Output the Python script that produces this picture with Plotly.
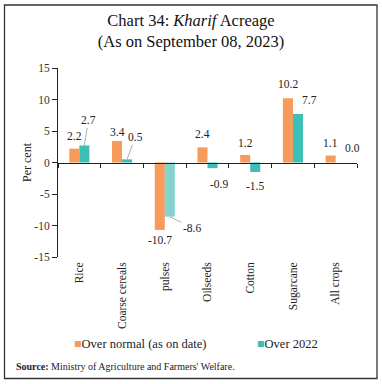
import plotly.graph_objects as go

categories = ["Rice", "Coarse cereals", "pulses", "Oilseeds", "Cotton", "Sugarcane", "All crops"]
over_normal = [2.2, 3.4, -10.7, 2.4, 1.2, 10.2, 1.1]
over_2022 = [2.7, 0.5, -8.6, -0.9, -1.5, 7.7, 0.0]
series_names = ["Over normal (as on date)", "Over 2022"]
y_ticks = [-15, -10, -5, 0, 5, 10, 15]

ORANGE = "#F79A5B"
TEAL = "#3DBFB6"
TEAL_LIGHT = "#86D3CD"
FONT = "Liberation Serif"

teal_colors = [TEAL_LIGHT if v < -5 else TEAL for v in over_2022]

fig = go.Figure()
fig.add_trace(go.Bar(x=categories, y=over_normal, name=series_names[0],
                     marker=dict(color=ORANGE, line=dict(width=0)), showlegend=False))
fig.add_trace(go.Bar(x=categories, y=over_2022, name=series_names[1],
                     marker=dict(color=teal_colors, line=dict(width=0)), showlegend=False))
# invisible trace to drive the zero-line category axis
fig.add_trace(go.Scatter(x=categories, y=[0] * len(categories), xaxis="x2", mode="markers",
                         marker=dict(opacity=0), hoverinfo="skip", showlegend=False))

# label offsets (pixels): (ax, ay, leader)
off_normal = [(0, -13, False), (0, -9, False), (0, 10, False), (0, -13, False),
              (0, -12, False), (0, -14, False), (0, -13, False)]
off_2022 = [(4, -25, True), (8, -22, True), (22, 11, True), (6, 16, False),
            (0, 14, False), (12, -14, False), (12, -15, False)]

for cat, v, (ax, ay, lead) in zip(categories, over_normal, off_normal):
    fig.add_annotation(x=cat, y=v, xref="x", yref="y", xshift=-5, text=f"{v:.1f}",
                       showarrow=True, ax=ax, ay=ay, arrowhead=0, arrowwidth=0.8,
                       arrowcolor="#999999" if lead else "rgba(0,0,0,0)",
                       font=dict(family=FONT, size=11.5, color="#222"))
for cat, v, (ax, ay, lead) in zip(categories, over_2022, off_2022):
    fig.add_annotation(x=cat, y=v, xref="x", yref="y", xshift=5, text=f"{v:.1f}",
                       showarrow=True, ax=ax, ay=ay, arrowhead=0, arrowwidth=0.8,
                       arrowcolor="#999999" if lead else "rgba(0,0,0,0)",
                       font=dict(family=FONT, size=11.5, color="#222"))

# legend drawn as text with coloured squares
fig.add_annotation(xref="paper", yref="paper", x=(72 - 58) / 299, y=(257 - 344) / 189,
                   xanchor="left", yanchor="middle", showarrow=False,
                   text=f"<span style='color:{ORANGE}'>■</span>{series_names[0]}",
                   font=dict(family=FONT, size=12.5, color="#222"))
fig.add_annotation(xref="paper", yref="paper", x=(255 - 58) / 299, y=(257 - 344) / 189,
                   xanchor="left", yanchor="middle", showarrow=False,
                   text=f"<span style='color:{TEAL}'>■</span>{series_names[1]}",
                   font=dict(family=FONT, size=12.5, color="#222"))
# source
fig.add_annotation(xref="paper", yref="paper", x=(14 - 58) / 299, y=(257 - 366) / 189,
                   xanchor="left", yanchor="middle", showarrow=False,
                   text="<b>Source:</b> Ministry of Agriculture and Farmers' Welfare.",
                   font=dict(family=FONT, size=10, color="#222"))

# frame
fig.add_shape(type="rect", xref="paper", yref="paper",
              x0=(4.5 - 58) / 299, x1=(377 - 58) / 299,
              y0=(257 - 378.5) / 189, y1=(257 - 5) / 189,
              line=dict(color="#333", width=1.3), fillcolor="rgba(0,0,0,0)", layer="below")

fig.update_layout(
    width=382, height=384,
    margin=dict(l=58, r=25, t=68, b=127, autoexpand=False),
    paper_bgcolor="white", plot_bgcolor="white",
    barmode="group", bargap=0.53, bargroupgap=0,
    title=dict(text="Chart 34: <i>Kharif</i> Acreage<br>(As on September 08, 2023)",
               x=0.5, xref="container", xanchor="center", y=0.933, yanchor="top",
               font=dict(family=FONT, size=16.5, color="#111")),
    font=dict(family=FONT, color="#222"),
    xaxis=dict(type="category", categoryorder="array", categoryarray=categories,
               range=[-0.5, 6.5], showline=False, ticks="", tickangle=-90,
               tickfont=dict(family=FONT, size=11.5, color="#222"), showgrid=False,
               zeroline=False, ticklabelstandoff=2, automargin=False),
    xaxis2=dict(type="category", categoryorder="array", categoryarray=categories,
                overlaying="x", anchor="free", position=0.5, side="bottom",
                range=[-0.5, 6.5], showline=True, linecolor="#222", linewidth=1,
                ticks="outside", tickson="boundaries", ticklen=4, tickcolor="#222",
                showticklabels=False, showgrid=False, zeroline=False, automargin=False),
    yaxis=dict(range=[-15, 15], tickvals=y_ticks, ticktext=[str(t) for t in y_ticks],
               ticks="outside", ticklen=5,
               tickcolor="#222", showline=True, linecolor="#222", linewidth=1,
               showgrid=False, zeroline=False, automargin=False,
               tickfont=dict(family=FONT, size=11.5, color="#333"),
               title=dict(text="Per cent", font=dict(family=FONT, size=12, color="#222"),
                          standoff=0)),
)

fig.write_html("out.html", config={"displayModeBar": False},
               post_script="document.body.style.margin='0';document.body.style.overflow='hidden';")
